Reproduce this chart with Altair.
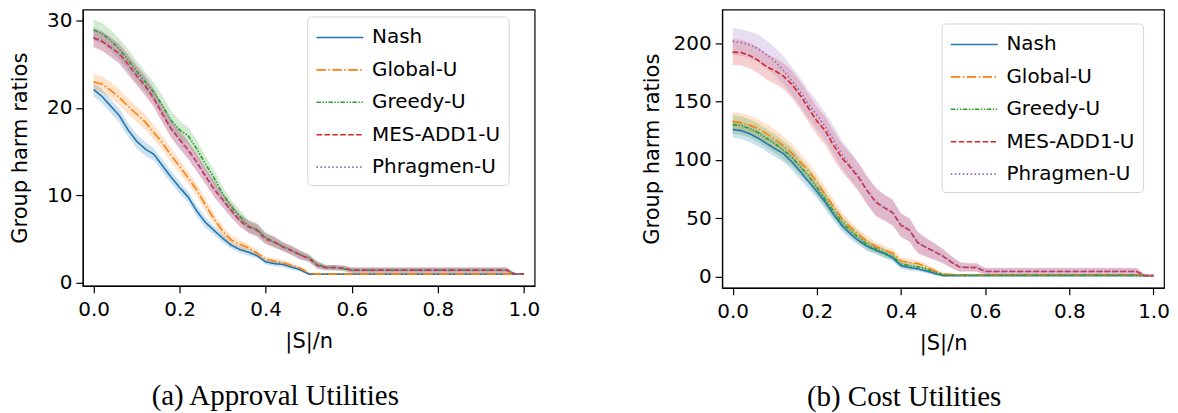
import altair as alt
import pandas as pd

# ---------------- data ----------------
X = [0.00, 0.02, 0.04, 0.06, 0.08, 0.10, 0.12, 0.14, 0.16, 0.18,
     0.20, 0.22, 0.24, 0.26, 0.28, 0.30, 0.32, 0.34, 0.36, 0.38,
     0.40, 0.42, 0.44, 0.46, 0.48, 0.50, 0.52, 0.54, 0.56, 0.58,
     0.60, 0.70, 0.80, 0.90, 0.96, 0.98, 1.00]

METHODS = ["Nash", "Global-U", "Greedy-U", "MES-ADD1-U", "Phragmen-U"]
COLORS = ["#1f77b4", "#ff7f0e", "#2ca02c", "#d62728", "#9467bd"]
DASHES = [[1, 0], [9.6, 2.4, 1.5, 2.4], [4.5, 1.5, 1.5, 1.5, 1.5, 1.5], [5.55, 2.4], [1.5, 2.475]]

X_TICKS = [0.0, 0.2, 0.4, 0.6, 0.8, 1.0]

# (a) Approval utilities
nash_a = [22.1, 21.3, 20.2, 19.1, 17.5, 16.2, 15.3, 14.7, 13.4, 12.1,
          10.9, 9.8, 8.2, 6.9, 6.0, 5.1, 4.3, 3.8, 3.5, 3.1,
          2.4, 2.2, 2.1, 1.8, 1.5, 1.0, 1.0, 1.0, 1.0, 1.0,
          1.0, 1.0, 1.0, 1.0, 1.0, 1.0, 1.0]
glob_a = [23.0, 22.7, 22.0, 21.2, 20.2, 19.3, 18.4, 17.2, 16.0, 14.6,
          13.3, 12.0, 10.6, 8.9, 7.3, 5.9, 4.9, 4.4, 4.0, 3.4,
          2.7, 2.5, 2.3, 2.0, 1.7, 1.1, 1.0, 1.0, 1.0, 1.0,
          1.0, 1.0, 1.0, 1.0, 1.0, 1.0, 1.0]
greedy_a = [28.9, 28.5, 27.7, 26.7, 25.5, 24.2, 23.0, 21.8, 20.3, 18.6,
            17.5, 16.8, 15.3, 13.6, 12.0, 10.2, 8.7, 7.6, 6.5, 6.1,
            5.2, 4.6, 4.2, 3.7, 3.2, 2.9, 2.1, 1.75, 1.75, 1.6,
            1.45, 1.45, 1.45, 1.45, 1.45, 1.0, 1.0]
mes_a = [28.0, 27.6, 26.9, 26.2, 25.0, 23.7, 22.5, 21.1, 19.3, 17.6,
         16.4, 15.2, 13.8, 12.2, 10.7, 9.5, 8.3, 7.1, 6.4, 6.0,
         5.0, 4.7, 4.1, 3.7, 3.2, 2.8, 2.0, 1.75, 1.75, 1.7,
         1.45, 1.45, 1.45, 1.45, 1.45, 1.0, 1.0]
phrag_a = [28.1, 27.7, 27.0, 26.1, 24.9, 23.8, 22.6, 21.2, 19.4, 17.7,
           16.3, 15.1, 13.7, 12.3, 10.8, 9.4, 8.2, 7.2, 6.4, 6.0,
           5.0, 4.7, 4.1, 3.7, 3.2, 2.8, 2.0, 1.75, 1.75, 1.7,
           1.45, 1.45, 1.45, 1.45, 1.45, 1.0, 1.0]

nash_a_err = [0.8, 0.8, 0.8, 0.8, 0.8, 0.8, 0.8, 0.7, 0.7, 0.7,
              0.7, 0.6, 0.6, 0.6, 0.5, 0.5, 0.4, 0.4, 0.4, 0.3,
              0.3, 0.3, 0.3, 0.3, 0.2, 0.1, 0.05, 0.05, 0.05, 0.05,
              0.05, 0.05, 0.05, 0.05, 0.05, 0.05, 0.05]
glob_a_err = [0.9, 0.9, 0.9, 0.9, 0.9, 0.9, 0.9, 0.8, 0.8, 0.8,
              0.8, 0.7, 0.7, 0.7, 0.6, 0.6, 0.5, 0.5, 0.4, 0.4,
              0.3, 0.3, 0.3, 0.3, 0.2, 0.1, 0.05, 0.05, 0.05, 0.05,
              0.05, 0.05, 0.05, 0.05, 0.05, 0.05, 0.05]
greedy_a_err = [1.2, 1.2, 1.2, 1.2, 1.2, 1.2, 1.1, 1.1, 1.1, 1.1,
                1.0, 1.0, 1.0, 0.9, 0.9, 0.8, 0.8, 0.7, 0.7, 0.7,
                0.6, 0.6, 0.5, 0.5, 0.5, 0.4, 0.4, 0.3, 0.3, 0.3,
                0.3, 0.3, 0.3, 0.3, 0.3, 0.05, 0.05]
mes_a_err = [1.1, 1.1, 1.1, 1.1, 1.1, 1.1, 1.1, 1.0, 1.0, 1.0,
             1.0, 1.0, 1.0, 0.9, 0.9, 0.8, 0.8, 0.7, 0.7, 0.7,
             0.6, 0.6, 0.5, 0.5, 0.5, 0.4, 0.4, 0.3, 0.3, 0.3,
             0.3, 0.3, 0.3, 0.3, 0.3, 0.05, 0.05]
phrag_a_err = [1.1, 1.1, 1.1, 1.1, 1.1, 1.1, 1.1, 1.0, 1.0, 1.0,
               1.0, 1.0, 1.0, 0.9, 0.9, 0.8, 0.8, 0.7, 0.7, 0.7,
               0.6, 0.6, 0.5, 0.5, 0.5, 0.4, 0.4, 0.3, 0.3, 0.3,
               0.3, 0.3, 0.3, 0.3, 0.3, 0.05, 0.05]

# (b) Cost utilities
nash_b = [126.1, 125.2, 122.5, 118.8, 114.2, 109.8, 105.5, 98.6, 90.4, 81.8,
          73.2, 63.9, 53.3, 43.8, 36.7, 30.8, 25.9, 22.8, 19.9, 16.3,
          9.5, 8.0, 6.8, 5.0, 2.9, 1.0, 1.0, 1.0, 1.0, 1.0,
          1.0, 1.0, 1.0, 1.0, 1.0, 1.0, 1.0]
glob_b = [133.2, 132.0, 130.0, 127.1, 122.8, 117.8, 112.6, 106.2, 98.4, 90.6,
          81.0, 70.3, 59.9, 49.5, 42.3, 35.8, 30.0, 25.9, 22.8, 20.5,
          13.5, 12.2, 11.4, 8.6, 5.2, 2.5, 2.0, 1.6, 1.6, 1.6,
          1.6, 1.6, 1.6, 1.6, 1.6, 1.0, 1.0]
greedy_b = [130.3, 129.5, 127.0, 123.5, 118.5, 114.0, 108.5, 102.5, 94.5, 86.5,
            76.5, 66.3, 56.0, 46.5, 39.5, 33.5, 27.5, 24.0, 20.5, 17.8,
            11.0, 9.5, 8.5, 6.8, 3.8, 1.7, 1.5, 1.5, 1.5, 1.5,
            1.5, 1.5, 1.5, 1.5, 1.5, 1.0, 1.0]
mes_b = [192.3, 192.0, 189.5, 185.5, 180.0, 176.5, 172.0, 165.0, 155.5, 144.5,
         133.5, 125.0, 112.5, 101.5, 93.5, 84.5, 73.5, 64.0, 59.2, 55.0,
         44.0, 40.0, 29.0, 25.0, 21.5, 17.5, 12.5, 8.3, 8.0, 7.9,
         4.5, 4.5, 4.5, 4.5, 4.5, 1.0, 1.0]
phrag_b = [201.5, 200.5, 198.5, 195.5, 190.5, 184.5, 177.0, 168.0, 158.5, 148.0,
           138.5, 128.5, 117.0, 104.5, 95.0, 85.5, 74.0, 64.5, 59.5, 55.2,
           44.5, 40.3, 29.5, 25.3, 21.8, 17.8, 12.8, 8.6, 8.3, 8.2,
           4.8, 4.8, 4.8, 4.8, 4.8, 1.0, 1.0]

nash_b_err = [7, 7, 7, 7, 7, 7, 7, 7, 7, 6.5,
              6, 6, 5.5, 5, 4.5, 4, 4, 3.5, 3.5, 3,
              2.5, 2.5, 2, 2, 1.5, 0.8, 0.5, 0.5, 0.5, 0.5,
              0.5, 0.5, 0.5, 0.5, 0.5, 0.5, 0.5]
glob_b_err = [8, 8, 8, 8, 8, 8, 8, 8, 7.5, 7,
              7, 6.5, 6, 5.5, 5, 5, 4.5, 4, 4, 3.5,
              3, 3, 2.5, 2.5, 2, 1, 0.8, 0.8, 0.8, 0.8,
              0.8, 0.8, 0.8, 0.8, 0.8, 0.3, 0.3]
greedy_b_err = [8, 8, 8, 8, 8, 8, 8, 8, 7.5, 7,
                7, 6.5, 6, 5.5, 5, 5, 4.5, 4, 4, 3.5,
                3, 3, 2.5, 2.5, 2, 1, 0.8, 0.8, 0.8, 0.8,
                0.8, 0.8, 0.8, 0.8, 0.8, 0.3, 0.3]
mes_b_err = [11, 11, 11, 11, 11, 11, 11, 11.5, 12, 12,
             12, 12, 12, 12, 12, 12, 12, 12, 11, 11,
             10, 10, 9, 8, 7, 6, 5, 4, 3.5, 3.5,
             3, 3, 3, 3, 3, 0.5, 0.5]
phrag_b_err = [11.5, 11.5, 11.5, 12, 12, 12, 12, 12, 12, 12,
               12, 12, 12, 12, 12, 12, 12, 12, 11, 11,
               10, 10, 9, 8, 7, 6, 5, 4, 3.5, 3.5,
               3, 3, 3, 3, 3, 0.5, 0.5]

FONT = "DejaVu Sans"


def panel(series, errs, ydom, yticks, w, h, lx, ly, caption, cap_dx, title_pad):
    rows = []
    for m, ys, es in zip(METHODS, series, errs):
        for xv, yv, ev in zip(X, ys, es):
            rows.append({"x": xv, "y": yv, "lo": yv - ev, "hi": yv + ev, "method": m})
    df = pd.DataFrame(rows)

    xscale = alt.Scale(domain=[-0.025, 1.025], nice=False, zero=False)
    yscale = alt.Scale(domain=ydom, nice=False, zero=False)
    xaxis = alt.Axis(values=X_TICKS, format=".1f", title="|S|/n", labelPadding=7, titlePadding=11)
    yaxis = alt.Axis(values=yticks, title="Group harm ratios", titlePadding=title_pad)
    legend = alt.Legend(
        title=None, orient="none", legendX=lx, legendY=ly,
        symbolType="M-1,0H3", symbolSize=552, symbolStrokeWidth=1.6,
        labelFontSize=20, labelFont=FONT, labelColor="black",
        fillColor="white", strokeColor="#d6d6d6", cornerRadius=4,
        padding=8, labelOffset=31, rowPadding=9.5,
    )

    layers = []
    for m, c in zip(METHODS, COLORS):
        layers.append(
            alt.Chart(df).transform_filter(alt.datum.method == m).mark_area(
                opacity=0.22, color=c
            ).encode(
                x=alt.X("x:Q", scale=xscale, axis=xaxis),
                y=alt.Y("lo:Q", scale=yscale, axis=yaxis, stack=None),
                y2="hi:Q",
            )
        )
    line = alt.Chart(df).mark_line(strokeWidth=1.6).encode(
        x=alt.X("x:Q", scale=xscale, axis=xaxis),
        y=alt.Y("y:Q", scale=yscale, axis=yaxis),
        color=alt.Color("method:N", scale=alt.Scale(domain=METHODS, range=COLORS), legend=legend),
        strokeDash=alt.StrokeDash("method:N", scale=alt.Scale(domain=METHODS, range=DASHES), legend=legend),
    )
    layers.append(line)
    return alt.layer(*layers).properties(
        width=w, height=h,
        title=alt.TitleParams(
            text=caption, orient="bottom", anchor="start", frame="group", dx=cap_dx,
            offset=30, font="Liberation Serif", fontSize=29, fontWeight="normal", color="black",
        ),
    )


left = panel([nash_a, glob_a, greedy_a, mes_a, phrag_a],
             [nash_a_err, glob_a_err, greedy_a_err, mes_a_err, phrag_a_err],
             [-0.34, 31.25], [0, 10, 20, 30], 453, 277, 225, 7,
             "(a) Approval Utilities", 69, 16)
right = panel([nash_b, glob_b, greedy_b, mes_b, phrag_b],
              [nash_b_err, glob_b_err, greedy_b_err, mes_b_err, phrag_b_err],
              [-9.4, 228.8], [0, 50, 100, 150, 200], 443, 279, 220, 14,
              "(b) Cost Utilities", 85, 11)

chart = alt.hconcat(left, right, spacing=100).resolve_scale(
    color="independent", strokeDash="independent",
    x="independent", y="independent"
).resolve_legend(
    color="independent", strokeDash="independent"
).properties(
    padding=0
).configure_axis(
    labelFont=FONT, labelFontSize=20, labelColor="black",
    titleFont=FONT, titleFontSize=21, titleFontWeight="normal", titleColor="black",
    domainColor="black", domainWidth=1.2, tickColor="black", tickWidth=1.2, tickSize=7,
    labelPadding=4, grid=False,
).configure_view(
    stroke="black", strokeWidth=1.2
)

chart.save("out.html", embed_options={"renderer": "svg", "actions": False})
